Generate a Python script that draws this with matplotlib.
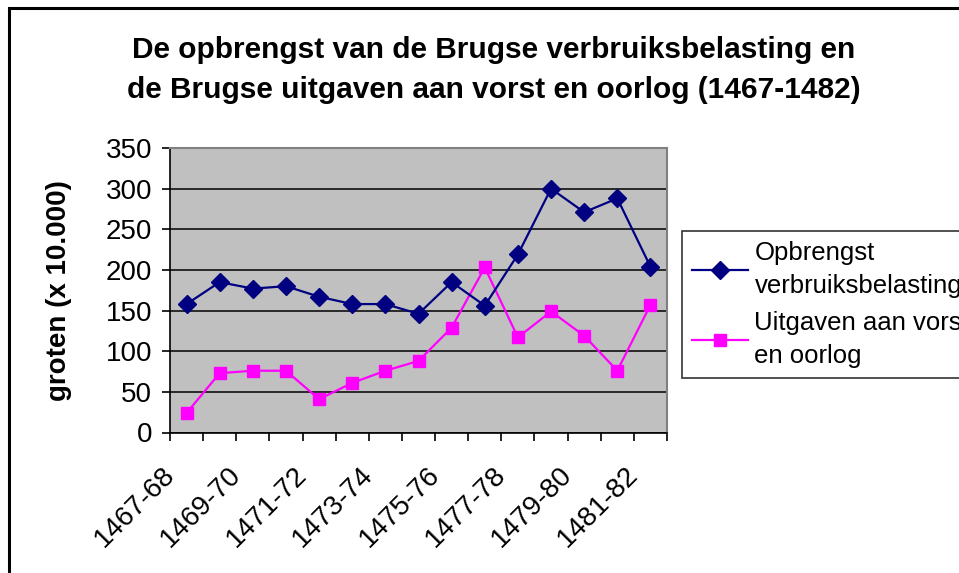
import matplotlib
matplotlib.use("Agg")
import matplotlib.pyplot as plt
from matplotlib.patches import Rectangle
from matplotlib.transforms import ScaledTranslation

periods = ["1467-68", "1468-69", "1469-70", "1470-71", "1471-72", "1472-73",
           "1473-74", "1474-75", "1475-76", "1476-77", "1477-78", "1478-79",
           "1479-80", "1480-81", "1481-82"]
opbrengst = [158, 185, 177, 180, 167, 158, 158, 146, 185, 156, 219, 300, 271, 288, 204]
uitgaven = [24, 73, 76, 76, 41, 61, 76, 88, 129, 203, 117, 149, 119, 76, 157]
y_ticks = [0, 50, 100, 150, 200, 250, 300, 350]

plt.rcParams["font.family"] = ["Liberation Sans", "DejaVu Sans"]

W, H = 959, 573
fig = plt.figure(figsize=(W / 100, H / 100), dpi=100)
fig.patch.set_facecolor("white")

# outer chart border (right/bottom fall outside the picture)
fig.patches.append(Rectangle((9 / W, -0.1), 1.2, 1 - 8 / H + 0.1,
                             transform=fig.transFigure, fill=False,
                             edgecolor="black", linewidth=2.2))

ax = fig.add_axes([170 / W, 1 - 432.5 / H, (667 - 170) / W, (432.5 - 148) / H])
ax.set_facecolor("#C0C0C0")

x = list(range(len(periods)))
ax.plot(x, opbrengst, color="#000080", linewidth=1.6, marker="D",
        markersize=9.5, label="Opbrengst\nverbruiksbelasting", zorder=4)
ax.plot(x, uitgaven, color="#FF00FF", linewidth=1.6, marker="s",
        markersize=8.5, label="Uitgaven aan vorst\nen oorlog", zorder=3)

ax.set_xlim(-0.5, len(periods) - 0.5)
ax.set_ylim(0, 350)
ax.set_yticks(y_ticks)
ax.yaxis.grid(True, color="black", linewidth=1.1)
ax.set_axisbelow(True)

ax.set_xticks(x[::2])
ax.set_xticklabels(periods[::2], rotation=45, ha="right",
                   rotation_mode="anchor", va="center", fontsize=20)
ax.set_xticks([i - 0.5 for i in range(len(periods) + 1)], minor=True)
ax.tick_params(axis="x", which="major", length=0, pad=27.5)
ax.tick_params(axis="x", which="minor", length=6, width=1.2, color="black")
ax.tick_params(axis="y", length=6, width=1.2, labelsize=20, pad=7)
for lab in ax.get_xticklabels():
    lab.set_transform(lab.get_transform() +
                      ScaledTranslation(-0.16, 0, fig.dpi_scale_trans))

for side in ("top", "right"):
    ax.spines[side].set_color("#808080")
    ax.spines[side].set_linewidth(1.5)
for side in ("left", "bottom"):
    ax.spines[side].set_color("black")
    ax.spines[side].set_linewidth(1.2)

ax.set_ylabel("groten (x 10.000)", fontsize=20, fontweight="bold", labelpad=24)

fig.text(494 / W, 1 - 70 / H,
         "De opbrengst van de Brugse verbruiksbelasting en\n"
         "de Brugse uitgaven aan vorst en oorlog (1467-1482)",
         ha="center", va="center", fontsize=21.5, fontweight="bold",
         linespacing=1.57)

leg = fig.legend(loc="upper left", bbox_to_anchor=(682 / W, 1 - 231 / H),
                 fontsize=18.5, frameon=True, fancybox=False, borderaxespad=0,
                 handlelength=2.15, handletextpad=0.27, labelspacing=0.53,
                 borderpad=0.4)
leg.get_frame().set_edgecolor("black")
leg.get_frame().set_linewidth(1.2)
for t in leg.get_texts():
    t.set_linespacing(1.45)

fig.savefig("out.png", dpi=100, facecolor="white")
